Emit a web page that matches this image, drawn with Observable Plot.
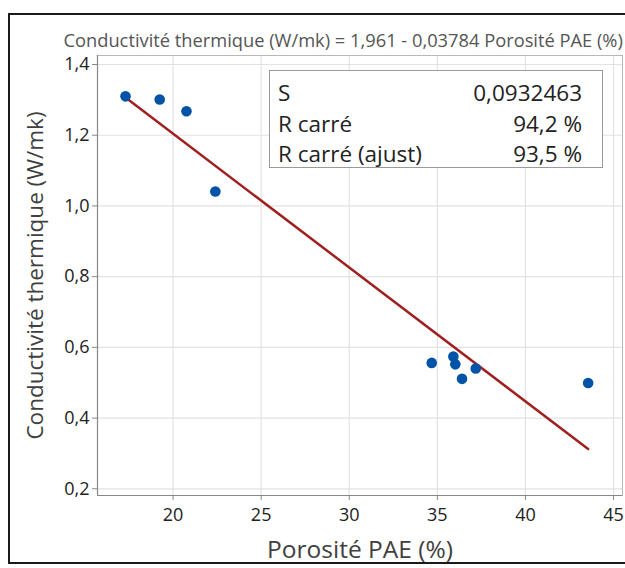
<!DOCTYPE html>
<html>
<head>
<meta charset="utf-8">
<script src="https://cdn.jsdelivr.net/npm/d3@7"></script>
<script src="https://cdn.jsdelivr.net/npm/@observablehq/plot@0.6"></script>
<style>
  html, body { margin: 0; padding: 0; background: #fff; }
  #wrap { position: relative; width: 625px; height: 568px; overflow: hidden; font-family: "Open Sans", "Noto Sans", sans-serif; }
  #border { position: absolute; left: 8px; top: 13px; width: 640px; height: 551px; border: 2px solid #1a1a1a; box-sizing: border-box; pointer-events: none; }
  #chart { position: absolute; left: 0; top: 0; }
  #stats { position: absolute; left: 269px; top: 70px; width: 334px; height: 98px; border: 1px solid #9a9a9a; box-sizing: border-box; background: #fff;
           font-family: "Open Sans", sans-serif; font-size: 22.5px; color: #222; padding: 7px 20px 0 8px; }
  #stats .row { display: flex; justify-content: space-between; height: 30.5px; line-height: 30.5px; white-space: nowrap; }
</style>
</head>
<body>
<div id="wrap">
  <div id="chart"></div>
  <div id="stats"></div>
  <div id="border"></div>
</div>
<script>
// Data
const porosite =     [17.30, 19.24, 20.76, 22.40, 34.68, 35.91, 36.02, 36.40, 37.18, 43.56];
const conductivite = [1.310, 1.301, 1.268, 1.041, 0.556, 0.574, 0.552, 0.511, 0.540, 0.499];
// Fitted equation (from the title)
const fitIntercept = 1.961;
const fitSlope = -0.03784;
const titleText = "Conductivité thermique (W/mk) = 1,961 - 0,03784 Porosité PAE (%)";
const xTicks = [20, 25, 30, 35, 40, 45];
const yTicks = [0.2, 0.4, 0.6, 0.8, 1.0, 1.2, 1.4];
const statLabels = ["S", "R carré", "R carré (ajust)"];
const statValues = ["0,0932463", "94,2 %", "93,5 %"];

const points = porosite.map((x, i) => ({x, y: conductivite[i]}));
const xmin = d3.min(porosite), xmax = d3.max(porosite);
const fitLine = [xmin, xmax].map(x => ({x, y: fitIntercept + fitSlope * x}));
const fr = d => d.toFixed(1).replace(".", ",");

const chart = Plot.plot({
  width: 625,
  height: 568,
  marginLeft: 97,
  marginRight: 3,
  marginTop: 55,
  marginBottom: 73,
  style: { fontFamily: "'Open Sans', sans-serif", background: "transparent", overflow: "visible" },
  x: { domain: [15.71, 45.51] },
  y: { domain: [0.181, 1.4255] },
  marks: [
    Plot.gridX(xTicks, { stroke: "#e2e2e2", strokeOpacity: 1, strokeWidth: 1.2 }),
    Plot.gridY(yTicks, { stroke: "#e2e2e2", strokeOpacity: 1, strokeWidth: 1.2 }),
    Plot.frame({ stroke: "#b8b8b8", strokeWidth: 1 }),
    Plot.axisX(xTicks, { tickSize: 5, stroke: "#888", tickPadding: 8, fontSize: 18, fill: "#222", label: null, tickFormat: d => String(d) }),
    Plot.axisY(yTicks, { tickSize: 5, stroke: "#888", tickPadding: 3, fontSize: 18, fill: "#222", label: null, tickFormat: fr }),
    Plot.ruleY([0.181], { stroke: "#888", strokeWidth: 1.2 }),
    Plot.ruleX([15.71], { stroke: "#888", strokeWidth: 1.2 }),
    Plot.line(fitLine, { x: "x", y: "y", stroke: "#a02020", strokeWidth: 2.5 }),
    Plot.dot(points, { x: "x", y: "y", r: 5.3, fill: "#0053a6", stroke: "none" }),
    Plot.text([titleText], { frameAnchor: "top-left", text: d => d, dx: -34, dy: -14, textAnchor: "start", lineAnchor: "middle", fontSize: 18.3, fill: "#555" }),
    Plot.text(["Porosité PAE (%)"], { frameAnchor: "bottom", text: d => d, dy: 55, textAnchor: "middle", lineAnchor: "middle", fontSize: 24.5, fill: "#404040" }),
    Plot.text(["Conductivité thermique (W/mk)"], { frameAnchor: "left", text: d => d, dx: -62, rotate: -90, textAnchor: "middle", lineAnchor: "middle", fontSize: 22.5, fill: "#404040" })
  ]
});
document.getElementById("chart").appendChild(chart);

const stats = document.getElementById("stats");
statLabels.forEach((l, i) => {
  const row = document.createElement("div");
  row.className = "row";
  const a = document.createElement("span"); a.textContent = l;
  const b = document.createElement("span"); b.textContent = statValues[i];
  row.appendChild(a); row.appendChild(b);
  stats.appendChild(row);
});
</script>
</body>
</html>
